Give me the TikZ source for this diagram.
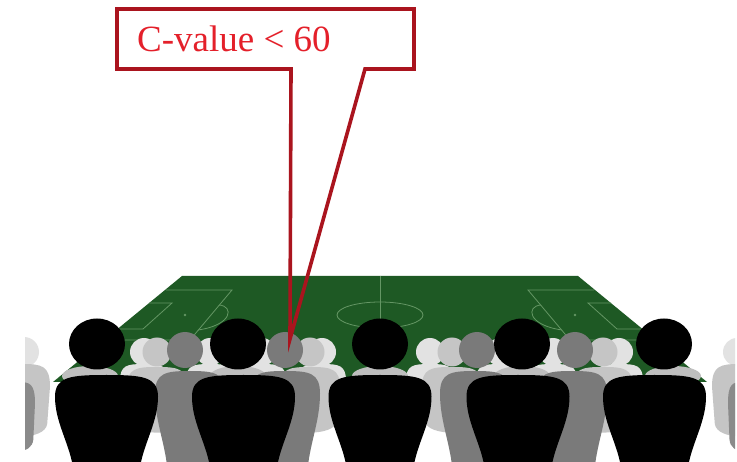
\documentclass[tikz,border=0pt]{standalone}
\usepackage{fontspec}
\setmainfont{Liberation Serif}
\definecolor{pitch}{RGB}{30,89,36}
\definecolor{pline}{RGB}{100,150,100}
\definecolor{verylight}{RGB}{226,226,226}
\definecolor{lightg}{RGB}{197,197,197}
\definecolor{collarg}{RGB}{190,190,190}
\definecolor{midg}{RGB}{122,122,122}
\definecolor{edgeg}{RGB}{138,138,138}
\definecolor{redline}{RGB}{170,20,30}
\definecolor{redtext}{RGB}{228,32,42}
\tikzset{
  markline/.style={draw=pline,line width=0.8pt},
  callout/.style={draw=redline,line width=3.6pt,line join=miter},
  labeltext/.style={text=redtext,font=\fontsize{37}{42}\selectfont,inner sep=0pt,anchor=base west}
}
\newcommand\crowdbody[5]{%
  \fill[#5,shift={(#1,#2)},xscale=#3,yscale=#4]
    (-0.67,1) .. controls (-0.76,0.75) and (-1,0.52) .. (-1,0.25)
    .. controls (-1,0.02) and (-0.7,0) .. (0,0)
    .. controls (0.7,0) and (1,0.02) .. (1,0.25)
    .. controls (1,0.52) and (0.76,0.75) .. (0.67,1) -- cycle;}
\newcommand\crowdback[5]{%
  \fill[#5,shift={(#1,#2)},xscale=#3,yscale=#4]
    (-1,0.3) .. controls (-1,0.02) and (-0.7,0) .. (0,0)
    .. controls (0.7,0) and (1,0.02) .. (1,0.3)
    -- (0.9,0.8) .. controls (0.82,1.02) and (-0.82,1.02) .. (-0.9,0.8) -- cycle;}
\newcommand\crowdhead[4]{%
  \fill[#4] (#1,#2) ellipse [x radius=#3, y radius=#3];}
\begin{document}
\begin{tikzpicture}[x=1pt,y=-1pt]
\useasboundingbox (0,0) rectangle (737,462);
\fill[white] (0,0) rectangle (737,462);
% pitch
\fill[pitch] (182,276) -- (578,276) -- (707,382) -- (53,382) -- cycle;
\draw[markline] (380,276) -- (380,382);
\draw[markline] (380,315) ellipse [x radius=43, y radius=13];
\foreach \side in {1,-1}{
\begin{scope}[shift={(380,0)},xscale=\side]
  \draw[markline] (-214,290) -- (-148,290) -- (-190,340) -- (-276,340);
  \draw[markline] (-231,303) -- (-208,303) -- (-237,329) -- (-263,329);
  \draw[markline] (-161,305) .. controls (-146,306) and (-147,325) .. (-182,330);
  \fill[pline] (-195,315) circle [radius=1.3];
\end{scope}}
% crowd
\begin{scope}
\clip (25,0) rectangle (735,462);
% very light back row
\foreach \c in {144,210,262,322,430,500,553,619}{
  \crowdback{\c}{364}{24}{56}{verylight}
  \crowdhead{\c}{352}{14}{verylight}}
% light back row
\foreach \c in {157,310,452,603}{
  \crowdback{\c}{367}{30}{68}{lightg}
  \crowdhead{\c}{352}{14.5}{lightg}}
% collars behind front heads
\foreach \c in {90,238,380,522,673}{
  \fill[collarg] (\c,376) ellipse [x radius=28, y radius=10];}
% middle grey row
\foreach \c/\h in {190/185,285/285,475/477,572/575}{
  \crowdbody{\c}{371}{35}{91}{midg}
  \crowdhead{\h}{350}{18}{midg}}
% front black row
\foreach \c/\h in {106.5/97,243.5/238,380/380,518/522,654.5/664}{
  \crowdbody{\c}{375}{51.5}{87}{black}
  \fill[black] (\h,344) ellipse [x radius=28, y radius=25.5];}
% edge figures
\crowdhead{24}{352}{15}{verylight}
\crowdback{22}{364}{28}{75}{lightg}
\crowdback{18}{382}{17}{72}{edgeg}
\crowdhead{737}{352}{14}{verylight}
\crowdback{740}{364}{28}{75}{lightg}
\crowdback{743}{382}{15}{72}{edgeg}
\end{scope}
% callout
\coordinate (tip) at (290,339);
\draw[callout] (117,9) -- (414,9) -- (414,69) -- (365,69) -- (tip) -- (291,69) -- (117,69) -- cycle;
\node[labeltext] (label) at (137,52) {C-value < 60};
\end{tikzpicture}
\end{document}
